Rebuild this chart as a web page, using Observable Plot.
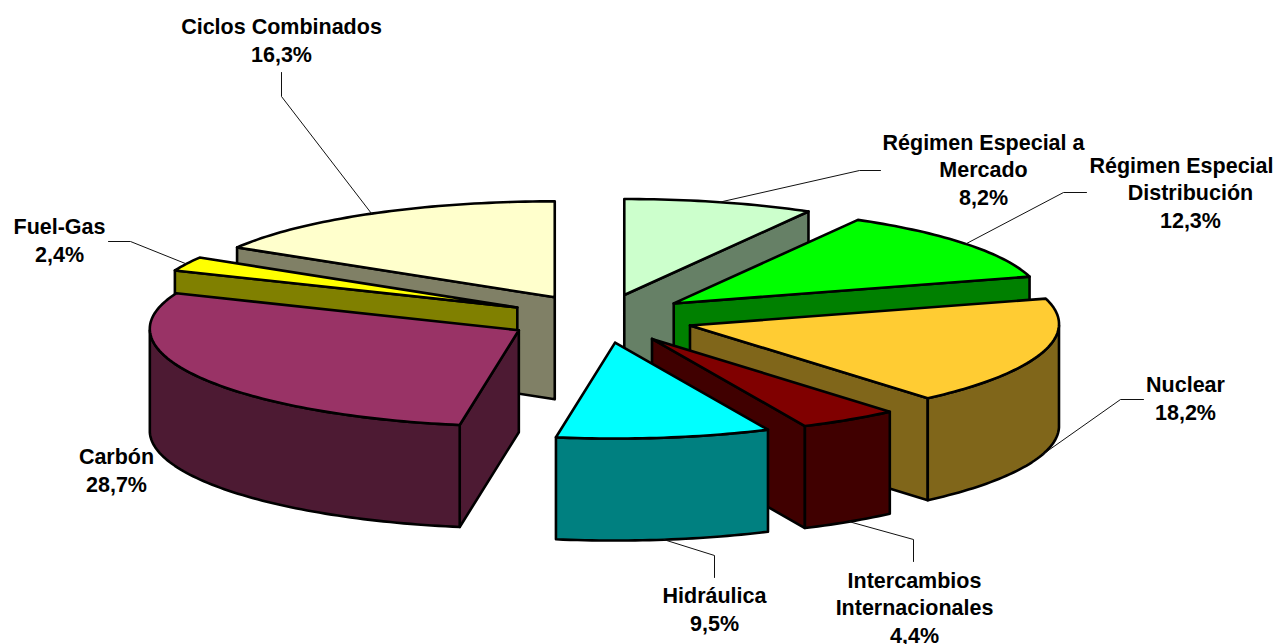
<!DOCTYPE html>
<html><head><meta charset="utf-8">
<script src="https://cdn.jsdelivr.net/npm/d3@7"></script>
<script src="https://cdn.jsdelivr.net/npm/@observablehq/plot@0.6"></script>
<style>html,body{margin:0;padding:0;background:#fff;overflow:hidden}svg{display:block}</style>
</head><body><div id="chart"></div>
<script>
// Data, clockwise from twelve o'clock
const categories = ["Régimen Especial a Mercado","Régimen Especial Distribución","Nuclear","Intercambios Internacionales","Hidráulica","Carbón","Fuel-Gas","Ciclos Combinados"];
const pad = "\u00A0\u00A0\u00A0"; // the reference sets these two lines slightly right of the first one
const labelLines = ["Régimen Especial a\nMercado\n","Régimen Especial\n"+pad+"Distribución\n"+pad,"Nuclear\n","Intercambios\nInternacionales\n","Hidráulica\n","Carbón\n","Fuel-Gas\n","Ciclos Combinados\n"];
const shares = [8.2,12.3,18.2,4.4,9.5,28.7,2.4,16.3];
const topColors = ["#CCFFCC","#00FF00","#FFCC33","#800000","#00FFFF","#993366","#FFFF00","#FFFFCC"];
const wallColors = ["#668066","#008000","#80661A","#400000","#008080","#4D1A33","#808000","#808066"];
const drawOrder = [0,7,1,6,2,5,3,4];

// Layout (pixels of the picture), kept apart from the data
const pie = {cx:600, cy:318, rx:369, ry:96, depth:102, explode:0.253, perspective:0.015};
const nudgeX = [0,0,0,1,2,0,0,0];
const labelAt = [[983,168],[1181,191],[1185,397],[914,606],[714,608],[116,469],[59,239],[281,39]];
const leaderBends = [
  [[859,170],[880,170]],[[1063,192],[1086,192]],[[1120,399],[1143,399]],
  [[913,539],[913,561]],[[714,555],[714,577]],null,[[130,241],[108,241]],[[281,96],[281,72]]
];

const TAU = 2*Math.PI, total = d3.sum(shares);
let run = 0;
const slices = shares.map((s,i)=>{
  const t0 = run/total*TAU; run += s; const t1 = run/total*TAU; const mid=(t0+t1)/2;
  return {i,t0,t1,mid,
    ox: pie.cx + pie.explode*pie.rx*Math.sin(mid) + nudgeX[i],
    oy: pie.cy - pie.explode*pie.ry*Math.cos(mid)};
});
const rim = (s,t,dz=0)=>[s.ox+pie.rx*Math.sin(t)*(1+pie.perspective*Math.cos(t)), s.oy-pie.ry*Math.cos(t)+dz];
const arc = (s,a,b,dz=0)=>{const n=Math.max(2,Math.ceil(Math.abs(b-a)/0.02));return d3.range(n+1).map(k=>rim(s,a+(b-a)*k/n,dz));};

const polys=[]; let pid=0;
const add=(pts,color)=>{const id=pid++;[...pts,pts[0]].forEach(([x,y])=>polys.push({id,x,y,color}));};
for(const i of drawOrder){
  const s=slices[i], d=pie.depth, O=[s.ox,s.oy], Od=[s.ox,s.oy+d];
  if(Math.sin(s.t0)<-1e-6) add([O,rim(s,s.t0),rim(s,s.t0,d),Od],wallColors[i]);
  if(Math.sin(s.t1)>1e-6) add([O,rim(s,s.t1),rim(s,s.t1,d),Od],wallColors[i]);
  const a=Math.max(s.t0,TAU/4), b=Math.min(s.t1,3*TAU/4);
  if(b>a) add([...arc(s,a,b),...arc(s,b,a,d)],wallColors[i]);
  add([O,...arc(s,s.t0,s.t1)],topColors[i]);
}

const leaders=[];
slices.forEach((s,i)=>{
  if(!leaderBends[i]) return;
  const front=Math.cos(s.mid)<0;
  const p=rim(s,s.mid,front?pie.depth:0);
  [p,...leaderBends[i]].forEach(([x,y])=>leaders.push({i,x,y}));
});
const labels=slices.map((s,i)=>({x:labelAt[i][0],y:labelAt[i][1],
  text:`${labelLines[i]}${shares[i].toFixed(1).replace(".",",")}%`}));

const chart=Plot.plot({
  width:1274,height:644,margin:0,
  style:{background:"#fff",overflow:"hidden"},
  x:{domain:[0,1274],range:[0,1274],axis:null},
  y:{domain:[0,644],range:[0,644],axis:null},
  color:{type:"identity"},
  marks:[
    Plot.line(polys,{x:"x",y:"y",z:"id",fill:"color",stroke:"#000",strokeWidth:2.6,strokeLinejoin:"round",curve:"linear"}),
    Plot.line(leaders,{x:"x",y:"y",z:"i",stroke:"#111",strokeWidth:1,curve:"linear"}),
    Plot.text(labels,{x:"x",y:"y",text:"text",fill:"#000",fontFamily:"'Liberation Sans',Arial,sans-serif",fontWeight:"bold",fontSize:21.5,lineHeight:1.3,lineAnchor:"middle",textAnchor:"middle"})
  ]
});
document.getElementById("chart").append(chart);
</script></body></html>
